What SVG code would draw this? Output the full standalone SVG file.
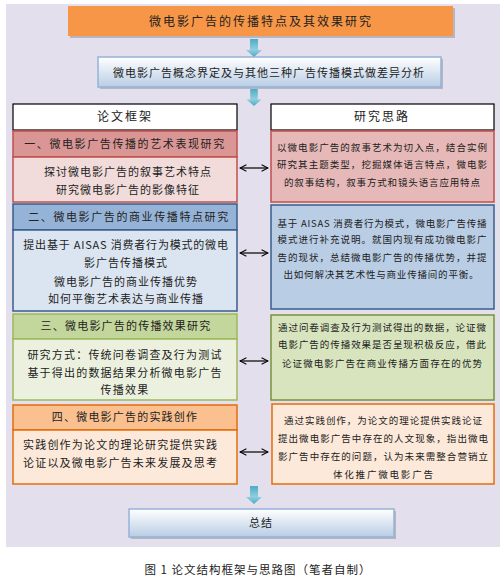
<svg xmlns="http://www.w3.org/2000/svg" width="504" height="580" viewBox="0 0 504 580">
<defs>
<linearGradient id="gBlue" x1="0" y1="0" x2="0" y2="1"><stop offset="0" stop-color="#ffffff"/><stop offset="1" stop-color="#b9cde5"/></linearGradient>
<linearGradient id="gArrow" x1="0" y1="0" x2="0" y2="1"><stop offset="0" stop-color="#4bacc6"/><stop offset="0.6" stop-color="#93cddd"/><stop offset="1" stop-color="#4bacc6"/></linearGradient>
<marker id="ah" viewBox="0 0 10 10" refX="9" refY="5" markerWidth="8" markerHeight="8" orient="auto-start-reverse" markerUnits="userSpaceOnUse">
<path d="M1,1 L9,5 L1,9" fill="none" stroke="#000" stroke-width="1.3"/>
</marker>
<symbol id="downArrow" viewBox="0 0 18 18" overflow="visible">
<path d="M5,0 H13 V11 H17 L9,18 L1,11 H5 Z" fill="url(#gArrow)"/>
</symbol>
</defs>
<style>
text{font-family:"Noto Sans CJK SC","Liberation Sans",sans-serif;fill:#222;}
.t12{font-size:12px;letter-spacing:2px;}
.t11{font-size:11px;}
.t10{font-size:9.5px;}
.c{text-anchor:middle;}
.shadow{fill:#9a9aa6;opacity:0.6;}
</style>
<rect x="6" y="4" width="494" height="543" fill="#e4dfec"/>

<g id="n_title">
<rect x="70" y="8" width="385" height="30" class="shadow"/>
<rect x="68" y="6" width="385" height="30" fill="#f79646"/>
<text x="261" y="26" class="t12 c">微电影广告的传播特点及其效果研究</text>
</g>

<g id="n_concept">
<rect x="100" y="59" width="343" height="30" class="shadow"/>
<rect x="98" y="57" width="343" height="30" fill="url(#gBlue)" stroke="#95b3d7" stroke-width="1.5"/>
<text x="269" y="77" class="t11 c" letter-spacing="1">微电影广告概念界定及与其他三种广告传播模式做差异分析</text>
</g>

<g id="n_head_left">
<rect x="13" y="104" width="224" height="26" fill="#ffffff" stroke="#000" stroke-width="1.2"/>
<text x="125" y="121" class="t12 c">论文框架</text>
</g>
<g id="n_head_right">
<rect x="271" y="104" width="223" height="26" fill="#ffffff" stroke="#000" stroke-width="1.2"/>
<text x="382" y="121" class="t12 c">研究思路</text>
</g>

<g id="n_left1">
<rect x="13" y="131" width="224" height="26" fill="#d99694" stroke="#c0504d" stroke-width="1.5"/>
<text x="125" y="148" class="t11 c" letter-spacing="1.6">一、微电影广告传播的艺术表现研究</text>
<rect x="13" y="157" width="224" height="45" fill="#f2dcdb" stroke="#c0504d" stroke-width="1.5"/>
<text x="128" y="176" class="t11 c" letter-spacing="1">探讨微电影广告的叙事艺术特点</text>
<text x="128" y="194" class="t11 c" letter-spacing="1">研究微电影广告的影像特征</text>
</g>
<g id="n_right1">
<rect x="271" y="131" width="223" height="71" fill="#e6b9b8" stroke="#c0504d" stroke-width="1.5"/>
<text x="382" y="151" class="t10 c" textLength="210" lengthAdjust="spacing">以微电影广告的叙事艺术为切入点，结合实例</text>
<text x="382" y="168" class="t10 c" textLength="210" lengthAdjust="spacing">研究其主题类型，挖掘媒体语言特点，微电影</text>
<text x="382" y="186" class="t10 c" textLength="196" lengthAdjust="spacing">的叙事结构，叙事方式和镜头语言应用特点</text>
</g>

<g id="n_left2">
<rect x="13" y="204" width="224" height="26" fill="#95b3d7" stroke="#385d8a" stroke-width="1.5"/>
<text x="129" y="221" class="t11 c" letter-spacing="1.6">二、微电影广告的商业传播特点研究</text>
<rect x="13" y="230" width="224" height="81" fill="#dbe5f1" stroke="#385d8a" stroke-width="1.5"/>
<text x="126" y="249" class="t11 c" letter-spacing="0.8">提出基于 AISAS 消费者行为模式的微电</text>
<text x="126" y="267" class="t11 c" letter-spacing="1">影广告传播模式</text>
<text x="126" y="286" class="t11 c" letter-spacing="1">微电影广告的商业传播优势</text>
<text x="126" y="303" class="t11 c" letter-spacing="1">如何平衡艺术表达与商业传播</text>
</g>
<g id="n_right2">
<rect x="271" y="205" width="223" height="104" fill="#b9cde5" stroke="#385d8a" stroke-width="1.5"/>
<text x="382" y="227" class="t10 c" textLength="209" lengthAdjust="spacing">基于 AISAS 消费者行为模式，微电影广告传播</text>
<text x="382" y="243" class="t10 c" textLength="209" lengthAdjust="spacing">模式进行补充说明。就国内现有成功微电影广</text>
<text x="382" y="261" class="t10 c" textLength="209" lengthAdjust="spacing">告的现状，总结微电影广告的传播优势，并提</text>
<text x="381" y="278" class="t10 c" textLength="195" lengthAdjust="spacing">出如何解决其艺术性与商业传播间的平衡。</text>
</g>

<g id="n_left3">
<rect x="13" y="314" width="224" height="25" fill="#c3d69b" stroke="#9bbb59" stroke-width="1.5"/>
<text x="126" y="330" class="t11 c" letter-spacing="1.2">三、微电影广告的传播效果研究</text>
<rect x="13" y="339" width="224" height="61" fill="#ebf1de" stroke="#9bbb59" stroke-width="1.5"/>
<text x="125" y="359" class="t11 c" letter-spacing="1.2">研究方式：传统问卷调查及行为测试</text>
<text x="125" y="377" class="t11 c" letter-spacing="1.2">基于得出的数据结果分析微电影广告</text>
<text x="125" y="394" class="t11 c" letter-spacing="1.2">传播效果</text>
</g>
<g id="n_right3">
<rect x="271" y="315" width="223" height="85" fill="#d7e4bd" stroke="#77933c" stroke-width="1.5"/>
<text x="382" y="331" class="t10 c" textLength="208" lengthAdjust="spacing">通过问卷调查及行为测试得出的数据，论证微</text>
<text x="382" y="348" class="t10 c" textLength="208" lengthAdjust="spacing">电影广告的传播效果是否呈现积极反应，借此</text>
<text x="382" y="367" class="t10 c" textLength="200" lengthAdjust="spacing">论证微电影广告在商业传播方面存在的优势</text>
</g>

<g id="n_left4">
<rect x="13" y="405" width="224" height="25" fill="#fac090" stroke="#e46c0a" stroke-width="1.5"/>
<text x="125" y="421" class="t11 c" letter-spacing="1.2">四、微电影广告的实践创作</text>
<rect x="13" y="430" width="224" height="54" fill="#fde9d9" stroke="#e46c0a" stroke-width="1.5"/>
<text x="23" y="449" class="t11" letter-spacing="1.2">实践创作为论文的理论研究提供实践</text>
<text x="23" y="467" class="t11" letter-spacing="1.2">论证以及微电影广告未来发展及思考</text>
</g>
<g id="n_right4">
<rect x="272" y="404" width="222" height="80" fill="#fde9d9" stroke="#e46c0a" stroke-width="1.5"/>
<text x="383" y="424" class="t10 c" textLength="198" lengthAdjust="spacing">通过实践创作，为论文的理论提供实践论证</text>
<text x="383" y="442" class="t10 c" textLength="210" lengthAdjust="spacing">提出微电影广告中存在的人文现象，指出微电</text>
<text x="383" y="460" class="t10 c" textLength="210" lengthAdjust="spacing">影广告中存在的问题，认为未来需整合营销立</text>
<text x="383" y="478" class="t10 c" textLength="100" lengthAdjust="spacing">体化推广微电影广告</text>
</g>

<g id="n_summary">
<rect x="131" y="511" width="265" height="28" class="shadow"/>
<rect x="129" y="509" width="265" height="28" fill="url(#gBlue)" stroke="#95b3d7" stroke-width="1.5"/>
<text x="261" y="527" class="t11 c" letter-spacing="1">总结</text>
</g>

<g id="connectors">
<use href="#downArrow" x="245" y="39" width="18" height="18"/>
<use href="#downArrow" x="245" y="89" width="18" height="17"/>
<use href="#downArrow" x="245" y="486" width="18" height="18"/>
<line x1="240" y1="168" x2="268" y2="168" stroke="#000" stroke-width="1.2" marker-start="url(#ah)" marker-end="url(#ah)"/>
<line x1="240" y1="253" x2="268" y2="253" stroke="#000" stroke-width="1.2" marker-start="url(#ah)" marker-end="url(#ah)"/>
<line x1="240" y1="361" x2="268" y2="361" stroke="#000" stroke-width="1.2" marker-start="url(#ah)" marker-end="url(#ah)"/>
<line x1="240" y1="452" x2="268" y2="452" stroke="#000" stroke-width="1.2" marker-start="url(#ah)" marker-end="url(#ah)"/>
</g>

<text x="258" y="574" class="c" font-size="11.5" letter-spacing="1">图 1 论文结构框架与思路图（笔者自制）</text>
</svg>
